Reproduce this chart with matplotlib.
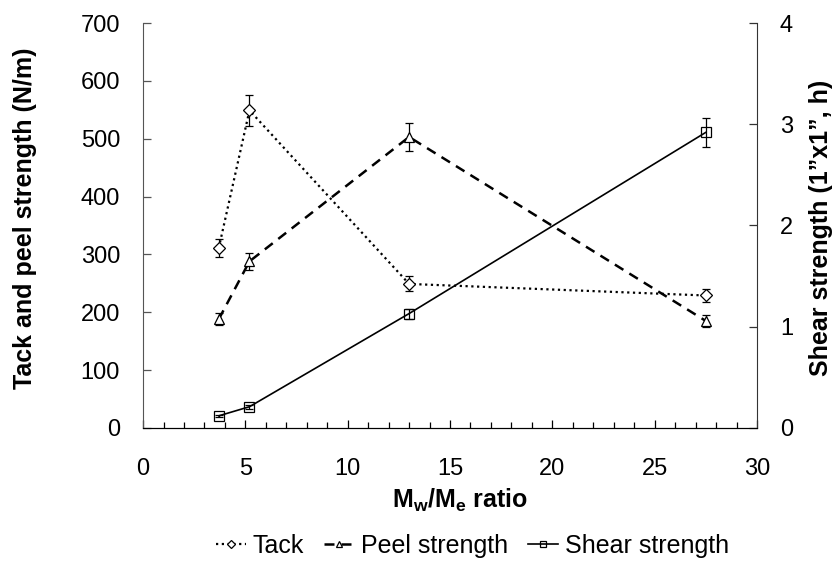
import matplotlib
matplotlib.use("Agg")
import matplotlib.pyplot as plt
from matplotlib.ticker import MultipleLocator

plt.rcParams['font.family'] = ['Liberation Sans', 'DejaVu Sans']
plt.rcParams['mathtext.fontset'] = 'custom'
plt.rcParams['mathtext.rm'] = 'Liberation Sans'
plt.rcParams['mathtext.bf'] = 'Liberation Sans:bold'

# Mw/Me ratio for each sample
ratio = [3.7, 5.2, 13.0, 27.5]

# tack and peel (N/m), left axis
tack = [311, 549, 249, 229]
tack_err = [15, 27, 13, 12]
peel = [188, 288, 503, 185]
peel_err = [10, 15, 25, 10]

# shear holding time (h), right axis
shear = [0.12, 0.21, 1.13, 2.92]
shear_err = [0.01, 0.02, 0.05, 0.145]

fig = plt.figure(figsize=(8.35, 5.61), dpi=100)
ax = fig.add_axes([0.1713, 0.2371, 0.7353, 0.7219])
ax2 = ax.twinx()

err_kw = dict(ecolor='black', elinewidth=0.9, capsize=3, capthick=0.9)

l1 = ax.errorbar(ratio, tack, yerr=tack_err, color='black', linestyle=(0, (1, 1.6)),
                 lw=1.6, marker='D', markersize=6, mfc='white', mec='black', mew=0.9,
                 **err_kw)[0]
l2 = ax.errorbar(ratio, peel, yerr=peel_err, color='black', linestyle=(0, (4, 2.8)),
                 lw=1.8, marker='^', markersize=7, mfc='white', mec='black', mew=0.9,
                 **err_kw)[0]
l3 = ax2.errorbar(ratio, shear, yerr=shear_err, color='black', linestyle='-',
                  lw=1.2, marker='s', markersize=6.5, mfc='none', mec='black', mew=0.9,
                  **err_kw)[0]

ax.set_xlim(0, 30)
ax.set_ylim(0, 700)
ax2.set_ylim(0, 4)
ax.xaxis.set_major_locator(MultipleLocator(5))
ax.xaxis.set_minor_locator(MultipleLocator(1))
ax.yaxis.set_major_locator(MultipleLocator(100))
ax2.yaxis.set_major_locator(MultipleLocator(1))

for a in (ax, ax2):
    a.spines['top'].set_visible(False)
ax.spines['left'].set_color('#555555')
ax2.spines['right'].set_color('#333333')
ax2.spines['left'].set_visible(False)
ax.spines['right'].set_visible(False)

ax.tick_params(axis='x', which='major', direction='in', length=5.5, width=0.9,
               labelsize=17, pad=21.5)
ax.tick_params(axis='x', which='minor', direction='in', length=4, width=0.9)
ax.tick_params(axis='y', direction='in', length=5.8, width=0.9, labelsize=17, pad=16.5,
               color='#555555')
ax2.tick_params(axis='y', direction='in', length=5.8, width=0.9, labelsize=17, pad=16.5,
                color='#333333')

# axis titles placed in figure coordinates
fig.text(0.551, 0.0945, r'$\mathbf{M_w/M_e}$ ratio', fontsize=18, fontweight='bold',
         ha='center', va='baseline')
fig.text(0.030, 0.611, 'Tack and peel strength (N/m)', fontsize=18, fontweight='bold',
         rotation=90, ha='center', va='center')
fig.text(0.983, 0.594, 'Shear strength (1\u201dx1\u201d, h)', fontsize=18,
         fontweight='bold', rotation=90, ha='center', va='center')

fig.legend([l1, l2, l3], ['Tack', 'Peel strength', 'Shear strength'],
           loc='center', bbox_to_anchor=(0.566, 0.027), ncol=3, frameon=False,
           fontsize=18, handlelength=1.2, handletextpad=0.28, columnspacing=0.8,
           markerscale=0.7, borderpad=0)

fig.savefig('out.png', dpi=100)
